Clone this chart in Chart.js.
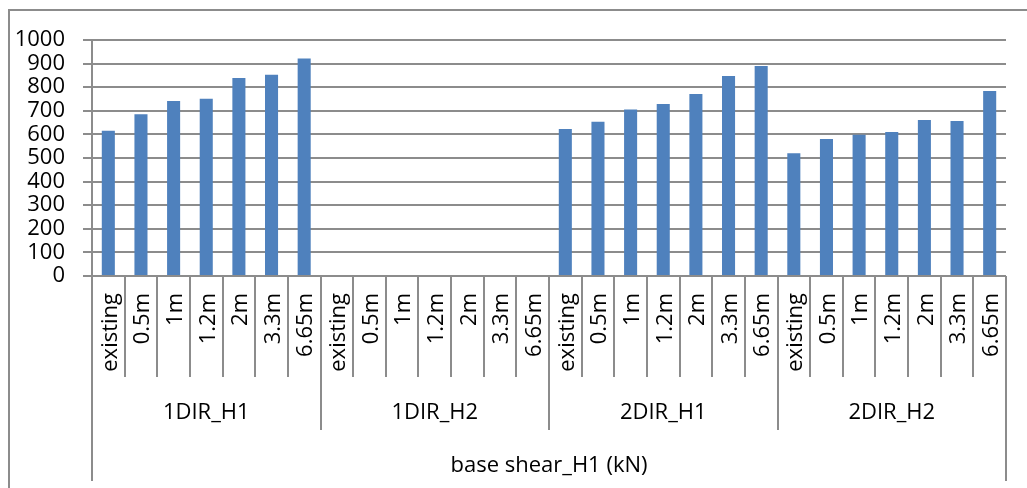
<!DOCTYPE html>
<html>
<head>
<meta charset="utf-8">
<title>base shear_H1 (kN)</title>
<script src="https://cdn.jsdelivr.net/npm/chart.js@4.4.1/dist/chart.umd.min.js"></script>
<style>
    html, body { margin: 0; padding: 0; background: #fff; overflow: hidden; }
    #wrap { position: relative; width: 1027px; height: 488px; }
</style>
</head>
<body>
<div id="wrap"><canvas id="shearChart"></canvas></div>
<script>
// sub-categories repeated under each group
const subLabels = ['existing', '0.5m', '1m', '1.2m', '2m', '3.3m', '6.65m'];
const groupLabels = ['1DIR_H1', '1DIR_H2', '2DIR_H1', '2DIR_H2'];
const axisTitle = 'base shear_H1 (kN)';

const dir1H1 = [615, 685, 741, 751, 839, 853, 922];
const dir1H2 = [null, null, null, null, null, null, null];
const dir2H1 = [623, 654, 706, 729, 771, 847, 890];
const dir2H2 = [520, 580, 599, 610, 661, 657, 784];

const yTicks = [0, 100, 200, 300, 400, 500, 600, 700, 800, 900, 1000];

const labels = groupLabels.flatMap(g => subLabels.map(s => g + ' ' + s));
const values = [].concat(dir1H1, dir1H2, dir2H1, dir2H2);

const lineGrey = '#8c8c8c';
const fontFamily = '"Open Sans", "Liberation Sans", sans-serif';

// two-level category axis + outer frame, drawn from the x scale positions
const groupAxis = {
    id: 'groupAxis',
    afterDraw(chart) {
        const ctx = chart.ctx;
        const xs = chart.scales.x;
        const area = chart.chartArea;
        const n = labels.length;
        const band = xs.getPixelForValue(1) - xs.getPixelForValue(0);
        const left = xs.getPixelForValue(0) - band / 2;
        const base = area.bottom;

        ctx.save();
        ctx.strokeStyle = lineGrey;
        ctx.lineWidth = 2;

        // separators below the axis
        for (let i = 0; i <= n; i++) {
            const x = Math.round(left + i * band);
            let depth = 377;
            if (i === 0 || i === n) depth = 481;
            else if (i % subLabels.length === 0) depth = 430;
            ctx.beginPath();
            ctx.moveTo(x, base);
            ctx.lineTo(x, depth);
            ctx.stroke();
        }

        // frame round the chart
        ctx.beginPath();
        ctx.moveTo(9, 488);
        ctx.lineTo(9, 10);
        ctx.lineTo(1027, 10);
        ctx.stroke();

        ctx.fillStyle = '#000';
        ctx.font = '22px ' + fontFamily;

        // rotated sub-category labels
        labels.forEach((_, i) => {
            const cx = xs.getPixelForValue(i);
            ctx.save();
            ctx.translate(cx + 2, 293);
            ctx.rotate(-Math.PI / 2);
            ctx.textAlign = 'right';
            ctx.textBaseline = 'middle';
            ctx.fillText(subLabels[i % subLabels.length], 0, 0);
            ctx.restore();
        });

        // group labels
        ctx.textAlign = 'center';
        ctx.textBaseline = 'middle';
        groupLabels.forEach((g, k) => {
            const first = xs.getPixelForValue(k * subLabels.length);
            const last = xs.getPixelForValue((k + 1) * subLabels.length - 1);
            ctx.fillText(g, (first + last) / 2, 413);
        });

        // axis title
        ctx.fillText(axisTitle, (area.left + area.right) / 2, 466);
        ctx.restore();
    }
};

new Chart(document.getElementById('shearChart'), {
    type: 'bar',
    data: {
        labels: labels,
        datasets: [{
            data: values,
            backgroundColor: '#4f81bd',
            borderWidth: 0,
            barPercentage: 0.4,
            categoryPercentage: 1.0
        }]
    },
    options: {
        responsive: true,
        maintainAspectRatio: false,
        animation: false,
        layout: { padding: { top: 40, right: 21, bottom: 0, left: 0 } },
        plugins: {
            legend: { display: false },
            tooltip: { enabled: false }
        },
        scales: {
            x: {
                grid: { display: false },
                border: { display: false },
                ticks: { display: false },
                afterFit: scale => { scale.height = 212; }
            },
            y: {
                min: 0,
                max: 1000,
                afterBuildTicks: scale => { scale.ticks = yTicks.map(v => ({ value: v })); },
                ticks: {
                    autoSkip: false,
                    color: '#000',
                    padding: 18,
                    font: { family: fontFamily, size: 22 },
                    callback: v => String(v)
                },
                grid: { color: lineGrey, lineWidth: 2, tickLength: 9 },
                border: { color: lineGrey, width: 2 },
                afterFit: scale => { scale.width = 92; }
            }
        }
    },
    plugins: [groupAxis]
});
</script>
</body>
</html>
